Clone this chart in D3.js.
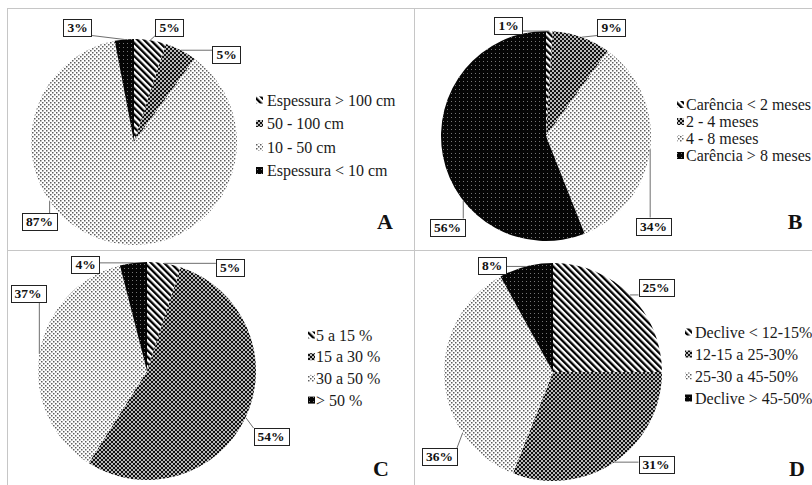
<!DOCTYPE html>
<html><head><meta charset="utf-8">
<script src="https://cdn.jsdelivr.net/npm/d3@7"></script>
<style>html,body{margin:0;padding:0;background:#fff;} svg{display:block;} text{font-family:"Liberation Serif","Times New Roman","DejaVu Serif",serif;}</style>
</head><body><svg id="chart" width="812" height="485"></svg>
<script>
// ---------- data ----------
const panelIds = ["A", "B", "C", "D"];
const categoriesA = ["Espessura > 100 cm", "50 - 100 cm", "10 - 50 cm", "Espessura < 10 cm"];
const valuesA = [5, 5, 87, 3];
const categoriesB = ["Carência < 2 meses", "2 - 4 meses", "4 - 8 meses", "Carência > 8 meses"];
const valuesB = [1, 9, 34, 56];
const categoriesC = ["5 a 15 %", "15 a 30 %", "30 a 50 %", "> 50 %"];
const valuesC = [5, 54, 37, 4];
const categoriesD = ["Declive < 12-15%", "12-15 a 25-30%", "25-30 a 45-50%", "Declive > 45-50%"];
const valuesD = [25, 31, 36, 8];
const fillKeys = ["stripes", "dense", "light", "black"];

// ---------- layout (positions only) ----------
const layout = {
  A: {cx:134, cy:142, r:103, iconX:256, textX:267, legendY:100, step:23.5, letterX:385, letterY:229,
      labels:[{x:169.5,y:27},{x:226.5,y:54},{x:39.5,y:221.5,anchor:235},{x:77.5,y:27}]},
  B: {cx:546, cy:136, r:105, iconX:677, textX:686, legendY:104.5, step:17, letterX:795, letterY:229,
      labels:[{x:508.5,y:25},{x:611.5,y:27},{x:653.5,y:226},{x:447.5,y:227,anchor:232}]},
  C: {cx:147, cy:371, r:109, iconX:308, textX:316, legendY:335, step:21.7, letterX:381, letterY:476,
      labels:[{x:230,y:267},{x:271,y:436.5},{x:28,y:293.5},{x:85.5,y:264.5}]},
  D: {cx:553, cy:372, r:109, iconX:685, textX:695, legendY:332, step:22, letterX:797, letterY:476,
      labels:[{x:656,y:287.5},{x:656,y:464.5},{x:439.5,y:456.5,anchor:236},{x:492,y:265.5}]}
};
const dataByPanel = {
  A: {cats: categoriesA, vals: valuesA},
  B: {cats: categoriesB, vals: valuesB},
  C: {cats: categoriesC, vals: valuesC},
  D: {cats: categoriesD, vals: valuesD}
};

const svg = d3.select("#chart");
svg.append("rect").attr("width", 812).attr("height", 485).attr("fill", "#fff");

// ---------- patterns ----------
const defs = svg.append("defs");
const pStripes = defs.append("pattern").attr("id", "stripes").attr("patternUnits", "userSpaceOnUse")
  .attr("width", 4.6).attr("height", 4.6).attr("patternTransform", "rotate(-45)");
pStripes.append("rect").attr("width", 4.6).attr("height", 4.6).attr("fill", "#fff");
pStripes.append("rect").attr("width", 2.3).attr("height", 4.6).attr("fill", "#000");

const pDense = defs.append("pattern").attr("id", "dense").attr("patternUnits", "userSpaceOnUse")
  .attr("width", 4).attr("height", 4);
pDense.append("rect").attr("width", 4).attr("height", 4).attr("fill", "#111");
pDense.append("circle").attr("cx", 1).attr("cy", 1).attr("r", 0.95).attr("fill", "#fff");
pDense.append("circle").attr("cx", 3).attr("cy", 3).attr("r", 0.95).attr("fill", "#fff");

const pLight = defs.append("pattern").attr("id", "light").attr("patternUnits", "userSpaceOnUse")
  .attr("width", 4).attr("height", 4);
pLight.append("rect").attr("width", 4).attr("height", 4).attr("fill", "#fff");
pLight.append("rect").attr("x", 0).attr("y", 0).attr("width", 1.5).attr("height", 1.5).attr("fill", "#5e5e5e");
pLight.append("rect").attr("x", 2).attr("y", 2).attr("width", 1.5).attr("height", 1.5).attr("fill", "#5e5e5e");

const pBlack = defs.append("pattern").attr("id", "black").attr("patternUnits", "userSpaceOnUse")
  .attr("width", 4).attr("height", 4);
pBlack.append("rect").attr("width", 4).attr("height", 4).attr("fill", "#050505");
pBlack.append("rect").attr("x", 1).attr("y", 1).attr("width", 1).attr("height", 1).attr("fill", "#fff").attr("opacity", 0.45);

// ---------- panel borders ----------
const borderColor = "#c6c6c6";
const borders = svg.append("g").attr("stroke", borderColor).attr("stroke-width", 1).attr("shape-rendering", "crispEdges");
borders.append("line").attr("x1", 7).attr("x2", 812).attr("y1", 8.5).attr("y2", 8.5);
borders.append("line").attr("x1", 7.5).attr("x2", 7.5).attr("y1", 8).attr("y2", 485);
borders.append("line").attr("x1", 414.5).attr("x2", 414.5).attr("y1", 8).attr("y2", 485);
borders.append("line").attr("x1", 7).attr("x2", 812).attr("y1", 250.5).attr("y2", 250.5);

// ---------- pies ----------
const pie = d3.pie().sort(null).value(d => d.v);

panelIds.forEach(id => {
  const L = layout[id];
  const D = dataByPanel[id];
  const rows = D.cats.map((c, i) => ({c: c, v: D.vals[i], k: fillKeys[i], i: i}));
  const arcs = pie(rows);
  const arc = d3.arc().innerRadius(0).outerRadius(L.r);
  const g = svg.append("g").attr("transform", `translate(${L.cx},${L.cy})`);
  g.selectAll("path").data(arcs).join("path")
    .attr("d", arc)
    .attr("fill", d => `url(#${d.data.k})`);

  // leader lines + labels
  const lab = svg.append("g");
  arcs.forEach((a, i) => {
    const spec = L.labels[i];
    const txt = a.data.v + "%";
    const ang = spec.anchor !== undefined ? spec.anchor * Math.PI / 180 : (a.startAngle + a.endAngle) / 2;
    const px = L.cx + L.r * Math.sin(ang);
    const py = L.cy - L.r * Math.cos(ang);
    const t = lab.append("text").attr("x", spec.x).attr("y", spec.y)
      .attr("text-anchor", "middle").attr("dominant-baseline", "central")
      .attr("font-weight", "bold").attr("font-size", 13.5)
      .attr("fill", "#111").text(txt);
    const w = t.node().getComputedTextLength() + 8;
    const h = 17;
    const bx0 = spec.x - w / 2, bx1 = spec.x + w / 2, by0 = spec.y - h / 2, by1 = spec.y + h / 2;
    const qx = Math.max(bx0, Math.min(bx1, px));
    const qy = Math.max(by0, Math.min(by1, py));
    lab.insert("line", "text").attr("x1", px).attr("y1", py).attr("x2", qx).attr("y2", qy)
      .attr("stroke", "#6e6e6e").attr("stroke-width", 1);
    lab.insert("rect", "text").attr("x", Math.round(bx0) + 0.5).attr("y", Math.round(by0) + 0.5)
      .attr("width", Math.round(w)).attr("height", h)
      .attr("fill", "#fff").attr("stroke", "#222").attr("stroke-width", 1);
  });

  // legend
  const leg = svg.append("g");
  rows.forEach((r, i) => {
    const y = L.legendY + i * L.step;
    leg.append("rect").attr("x", L.iconX).attr("y", y - 3.5).attr("width", 7).attr("height", 7)
      .attr("fill", `url(#${r.k})`);
    leg.append("text").attr("x", L.textX).attr("y", y).attr("dominant-baseline", "central")
      .attr("font-size", 16).attr("fill", "#1a1a1a").text(r.c);
  });

  // panel letter
  svg.append("text").attr("x", L.letterX).attr("y", L.letterY).attr("text-anchor", "middle")
    .attr("font-weight", "bold").attr("font-size", 22)
    .attr("fill", "#111").text(id);
});
</script>
</body></html>
